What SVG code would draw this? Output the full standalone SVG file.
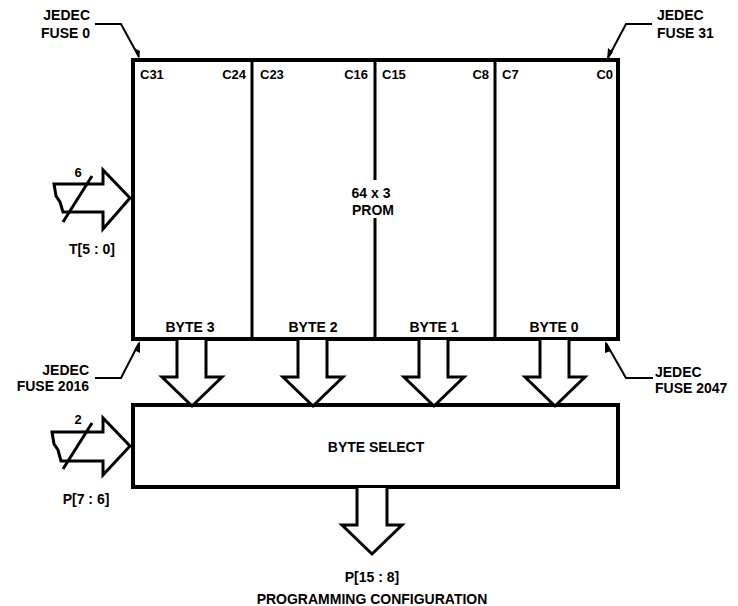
<svg xmlns="http://www.w3.org/2000/svg" width="738" height="606" viewBox="0 0 738 606">
<style>
text{font-family:"Liberation Sans",Arial,sans-serif;font-weight:bold;fill:#000}
.l{font-size:14px}
.c{font-size:13px}
.box{fill:#fff;stroke:#000;stroke-width:4}
.div{stroke:#000;stroke-width:3;fill:none}
.bus{fill:#fff;stroke:#000;stroke-width:3;stroke-linejoin:miter}
.lead{fill:none;stroke:#000;stroke-width:2}
</style>
<rect width="738" height="606" fill="#fff"/>
<g id="prom">
<rect class="box" x="133" y="60" width="485" height="279"/>
<line class="div" x1="252" y1="60" x2="252" y2="339"/>
<line class="div" x1="375" y1="60" x2="375" y2="180"/>
<line class="div" x1="375" y1="218" x2="375" y2="339"/>
<line class="div" x1="495" y1="60" x2="495" y2="339"/>
<text class="c" x="140" y="79">C31</text>
<text class="c" x="246" y="79" text-anchor="end">C24</text>
<text class="c" x="260" y="79">C23</text>
<text class="c" x="368" y="79" text-anchor="end">C16</text>
<text class="c" x="382" y="79">C15</text>
<text class="c" x="489" y="79" text-anchor="end">C8</text>
<text class="c" x="502" y="79">C7</text>
<text class="c" x="613" y="79" text-anchor="end">C0</text>
<text class="l" x="371" y="198" text-anchor="middle">64 x 3</text>
<text class="l" x="373" y="215" text-anchor="middle">PROM</text>
<text class="l" x="190" y="332" text-anchor="middle">BYTE 3</text>
<text class="l" x="313" y="332" text-anchor="middle">BYTE 2</text>
<text class="l" x="434" y="332" text-anchor="middle">BYTE 1</text>
<text class="l" x="554" y="332" text-anchor="middle">BYTE 0</text>
</g>
<g id="byteselect">
<rect class="box" x="133" y="405" width="485" height="82"/>
<text class="l" x="376" y="452" text-anchor="middle">BYTE SELECT</text>
</g>
<g id="connectors">
<polyline class="bus" points="177,340 177,377 162,377 192,406 222,377 206,377 206,340"/>
<polyline class="bus" points="298,340 298,377 283,377 313,406 343,377 327,377 327,340"/>
<polyline class="bus" points="419,340 419,377 404,377 434,406 464,377 448,377 448,340"/>
<polyline class="bus" points="540,340 540,377 525,377 555,406 585,377 569,377 569,340"/>
<polyline class="bus" points="357,488 357,525 342,525 372,554 402,525 387,525 387,488"/>
<polygon class="bus" points="54,184 103,184 103,170 130,198 103,229 103,212 63,212 60,202 56,196"/>
<line class="div" x1="63" y1="222" x2="92" y2="176"/>
<polygon class="bus" points="52,432 103,432 103,418 130,446 103,475 103,461 61,461 58,450 54,444"/>
<line class="div" x1="63" y1="469" x2="92" y2="423"/>
<polyline class="lead" points="95,24 121,24 139,57"/>
<polygon points="139,59 134,48 140,51"/>
<polyline class="lead" points="652,24 626,24 608,58"/>
<polygon points="607,60 608,48 613,52"/>
<polyline class="lead" points="95,378 121,378 139,343"/>
<polygon points="140,341 140,353 134,350"/>
<polyline class="lead" points="653,378 626,378 606,343"/>
<polygon points="605,341 611,351 605,353"/>
</g>
<g id="labels">
<text class="l" x="90" y="20" text-anchor="end">JEDEC</text>
<text class="l" x="90" y="38" text-anchor="end">FUSE 0</text>
<text class="l" x="657" y="20">JEDEC</text>
<text class="l" x="657" y="38">FUSE 31</text>
<text class="l" x="89" y="375" text-anchor="end">JEDEC</text>
<text class="l" x="89" y="391" text-anchor="end">FUSE 2016</text>
<text class="l" x="655" y="377">JEDEC</text>
<text class="l" x="655" y="393">FUSE 2047</text>
<text class="c" x="78" y="177" text-anchor="middle">6</text>
<text class="l" x="92" y="254" text-anchor="middle">T[5 : 0]</text>
<text class="c" x="78" y="424" text-anchor="middle">2</text>
<text class="l" x="86" y="504" text-anchor="middle">P[7 : 6]</text>
<text class="l" x="372" y="582" text-anchor="middle">P[15 : 8]</text>
<text class="l" x="372" y="604" text-anchor="middle">PROGRAMMING CONFIGURATION</text>
</g>
</svg>
